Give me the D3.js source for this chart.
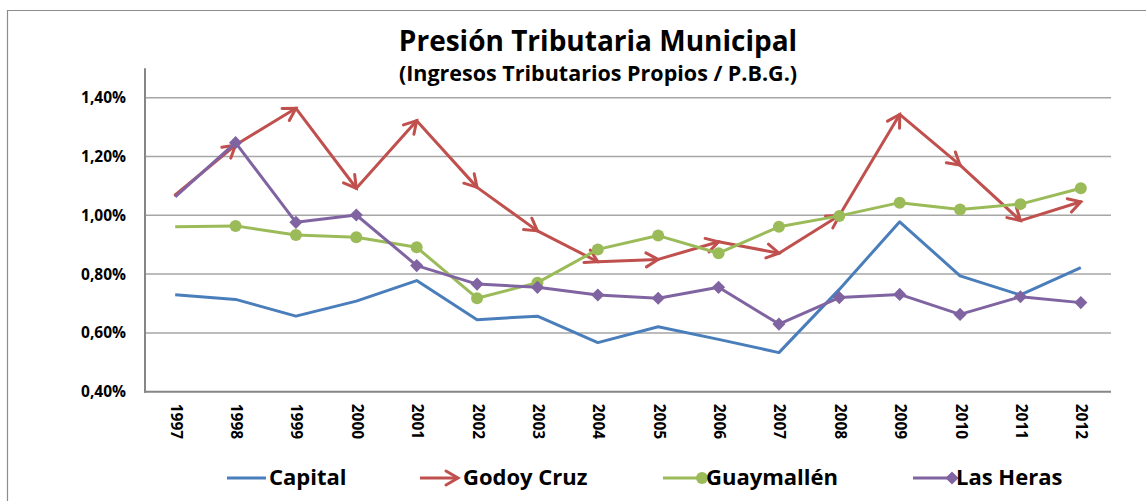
<!DOCTYPE html>
<meta charset="utf-8">
<style>
body { margin: 0; background: #fff; }
text { font-family: "Open Sans", sans-serif; font-weight: bold; fill: #000; }
.grid line { stroke: #a6a6a6; stroke-width: 1.5px; }
.axis-line { stroke: #868686; stroke-width: 2px; }
</style>
<svg width="1146" height="501"></svg>
<script src="https://d3js.org/d3.v7.min.js"></script>
<script>

var years = ["1997","1998","1999","2000","2001","2002","2003","2004",
             "2005","2006","2007","2008","2009","2010","2011","2012"];
var yTicks = [0.40, 0.60, 0.80, 1.00, 1.20, 1.40];

var capital = [0.730,0.714,0.657,0.708,0.778,0.645,0.657,0.567,0.621,0.578,0.533,0.748,0.978,0.794,0.729,0.822];
var godoyCruz = [1.069,1.239,1.364,1.092,1.322,1.095,0.947,0.842,0.850,0.910,0.871,0.999,1.343,1.171,0.982,1.046];
var guaymallen = [0.961,0.964,0.933,0.925,0.891,0.718,0.771,0.884,0.931,0.871,0.961,0.998,1.043,1.020,1.038,1.092];
var lasHeras = [1.063,1.247,0.976,1.001,0.829,0.766,0.755,0.729,0.718,0.755,0.630,0.720,0.731,0.663,0.723,0.703];

var seriesNames = ["Capital", "Godoy Cruz", "Guaymallén", "Las Heras"];

var svg = d3.select("svg"),
    width = +svg.attr("width"),
    height = +svg.attr("height");

svg.append("rect").attr("width", width).attr("height", height).attr("fill", "#fff");

// outer chart border (only top and left show in the frame)
svg.append("path")
   .attr("d", "M7.5," + height + "V10.5H" + width)
   .attr("fill", "none")
   .attr("stroke", "#8c8c8c")
   .attr("stroke-width", 1.2);

var plotLeft = 145, plotRight = 1111, plotTop = 68.3, plotBottom = 391.7;

var x = d3.scalePoint().domain(years).range([plotLeft, plotRight]).padding(0.5);
var y = d3.scaleLinear().domain([0.40, 1.50]).range([plotBottom, plotTop]);

var colors = { capital: "#4a7ebb", godoy: "#c0504d", guay: "#9bbb59", heras: "#8064a2" };

// title
svg.append("text")
   .attr("x", 598).attr("y", 51)
   .attr("text-anchor", "middle")
   .attr("font-size", "28px")
   .text("Presión Tributaria Municipal");
svg.append("text")
   .attr("x", 598).attr("y", 81)
   .attr("text-anchor", "middle")
   .attr("font-size", "21.5px")
   .text("(Ingresos Tributarios Propios / P.B.G.)");

// gridlines
svg.append("g").attr("class", "grid")
   .selectAll("line")
   .data(yTicks.filter(function(d) { return d > 0.40; }))
   .enter().append("line")
   .attr("x1", plotLeft).attr("x2", plotRight)
   .attr("y1", function(d) { return y(d); })
   .attr("y2", function(d) { return y(d); });

// y axis
var yAxis = svg.append("g")
   .attr("transform", "translate(" + plotLeft + ",0)")
   .call(d3.axisLeft(y).tickValues(yTicks).tickSize(0).tickPadding(19)
          .tickFormat(function(d) { return d3.format(".2f")(d).replace(".", ",") + "%"; }));
yAxis.select(".domain").remove();
yAxis.selectAll("text")
   .attr("font-family", "Open Sans")
   .attr("font-weight", "bold")
   .attr("font-size", "15.5px")
   .attr("fill", "#000");

// x axis
var xAxis = svg.append("g")
   .attr("transform", "translate(0," + plotBottom + ")")
   .call(d3.axisBottom(x).tickSize(0).tickPadding(0));
xAxis.select(".domain").remove();
xAxis.selectAll("text")
   .attr("font-family", "Open Sans")
   .attr("font-weight", "bold")
   .attr("font-size", "15.5px")
   .attr("fill", "#000")
   .attr("text-anchor", "start")
   .attr("dy", null)
   .attr("transform", "translate(-5,12) rotate(90)");

svg.append("line").attr("class", "axis-line")
   .attr("x1", plotLeft).attr("x2", plotLeft).attr("y1", plotTop).attr("y2", plotBottom + 1);
svg.append("line").attr("class", "axis-line")
   .attr("x1", plotLeft - 1).attr("x2", plotRight).attr("y1", plotBottom).attr("y2", plotBottom);

// arrow marker for Godoy Cruz
svg.append("defs").append("marker")
   .attr("id", "arrow")
   .attr("markerUnits", "userSpaceOnUse")
   .attr("viewBox", "-16 -10 20 20")
   .attr("refX", 0).attr("refY", 0)
   .attr("markerWidth", 20).attr("markerHeight", 20)
   .attr("orient", "auto")
   .append("path")
   .attr("d", "M-12,-7L0,0L-12,7")
   .attr("fill", "none")
   .attr("stroke", colors.godoy)
   .attr("stroke-width", 3)
   .attr("stroke-linecap", "round")
   .attr("stroke-linejoin", "miter");

var line = d3.line()
   .x(function(d, i) { return x(years[i]); })
   .y(function(d) { return y(d); });

// Capital
svg.append("path")
   .datum(capital)
   .attr("d", line)
   .attr("fill", "none")
   .attr("stroke", colors.capital)
   .attr("stroke-width", 3)
   .attr("stroke-linejoin", "round");

// Godoy Cruz: each segment ends with an arrow
var segs = d3.pairs(godoyCruz.map(function(v, i) { return [x(years[i]), y(v)]; }));
svg.append("g").selectAll("line")
   .data(segs).enter().append("line")
   .attr("x1", function(d) { return d[0][0]; })
   .attr("y1", function(d) { return d[0][1]; })
   .attr("x2", function(d) { return d[1][0]; })
   .attr("y2", function(d) { return d[1][1]; })
   .attr("stroke", colors.godoy)
   .attr("stroke-width", 3)
   .attr("stroke-linecap", "round")
   .attr("marker-end", "url(#arrow)");

// Guaymallén
svg.append("path")
   .datum(guaymallen)
   .attr("d", line)
   .attr("fill", "none")
   .attr("stroke", colors.guay)
   .attr("stroke-width", 3)
   .attr("stroke-linejoin", "round");
svg.append("g").selectAll("circle")
   .data(guaymallen.map(function(v, i) { return [years[i], v]; }).slice(1))
   .enter().append("circle")
   .attr("cx", function(d) { return x(d[0]); })
   .attr("cy", function(d) { return y(d[1]); })
   .attr("r", 6)
   .attr("fill", colors.guay);

// Las Heras
svg.append("path")
   .datum(lasHeras)
   .attr("d", line)
   .attr("fill", "none")
   .attr("stroke", colors.heras)
   .attr("stroke-width", 3)
   .attr("stroke-linejoin", "round");
var diamond = d3.symbol().type(d3.symbolDiamond2).size(110);
svg.append("g").selectAll("path")
   .data(lasHeras.map(function(v, i) { return [years[i], v]; }).slice(1))
   .enter().append("path")
   .attr("d", diamond)
   .attr("transform", function(d) { return "translate(" + x(d[0]) + "," + y(d[1]) + ")"; })
   .attr("fill", colors.heras);

// legend
var legY = 478;
var legend = [
  { name: seriesNames[0], x0: 227, x1: 266, tx: 269, color: colors.capital, mark: "none" },
  { name: seriesNames[1], x0: 420, x1: 458, tx: 463, color: colors.godoy, mark: "arrow" },
  { name: seriesNames[2], x0: 663, x1: 702, tx: 706, color: colors.guay, mark: "circle" },
  { name: seriesNames[3], x0: 913, x1: 952, tx: 956, color: colors.heras, mark: "diamond" }
];
var lg = svg.append("g").selectAll("g").data(legend).enter().append("g");
lg.append("line")
  .attr("x1", function(d) { return d.x0; })
  .attr("x2", function(d) { return d.x1; })
  .attr("y1", legY).attr("y2", legY)
  .attr("stroke", function(d) { return d.color; })
  .attr("stroke-width", 3)
  .attr("marker-end", function(d) { return d.mark == "arrow" ? "url(#arrow)" : null; });
lg.filter(function(d) { return d.mark == "circle"; })
  .append("circle")
  .attr("cx", function(d) { return d.x1; }).attr("cy", legY).attr("r", 6)
  .attr("fill", function(d) { return d.color; });
lg.filter(function(d) { return d.mark == "diamond"; })
  .append("path")
  .attr("d", diamond)
  .attr("transform", function(d) { return "translate(" + d.x1 + "," + legY + ")"; })
  .attr("fill", function(d) { return d.color; });
lg.append("text")
  .attr("x", function(d) { return d.tx; })
  .attr("y", 485)
  .attr("font-size", "22px")
  .text(function(d) { return d.name; });

</script>
